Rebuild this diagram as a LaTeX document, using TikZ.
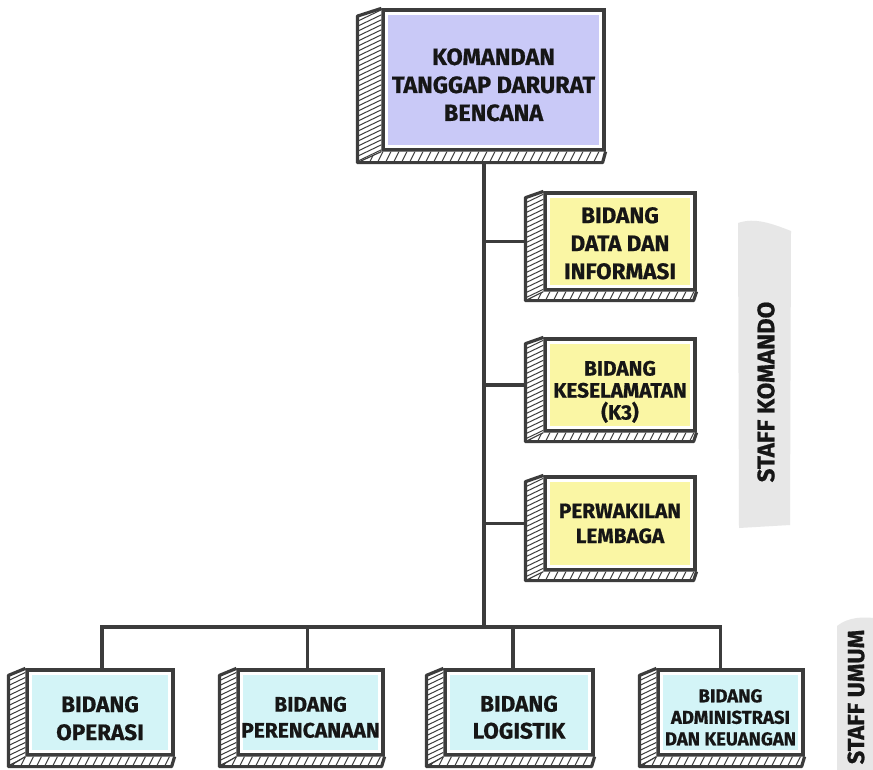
\documentclass[tikz,border=0pt]{standalone}
\usepackage{fontspec}
\setmainfont{Fira Sans}[BoldFeatures={FakeBold=0.7}]
\usetikzlibrary{calc,backgrounds}

\definecolor{ink}{HTML}{3C3C3C}
\definecolor{lav}{HTML}{C9C9F7}
\definecolor{lem}{HTML}{FAF6A4}
\definecolor{aqua}{HTML}{D3F4F7}
\definecolor{band}{HTML}{E7E7E7}
\definecolor{txt}{HTML}{161616}

% taller first line: pushes a text block down by half of #1
\newcommand\droptext[1]{\rule{0pt}{\dimexpr\fontcharht\font`B+#1\relax}}

\tikzset{
  x=1pt, y=-1pt,
  face/.style={draw=ink, line width=3.2pt, fill=white, inner sep=0pt,
    align=center, text=txt,
    path picture={\fill[#1] ([shift={(5pt,-5pt)}]path picture bounding box.north west)
      rectangle ([shift={(-5pt,5pt)}]path picture bounding box.south east);}},
  hatch/.style={draw=ink, line width=1pt},
  rim/.style={draw=ink, line width=3.2pt, line join=round},
  conn/.style={draw=ink, line width=3.6pt},
  fsz/.style n args={2}{font=\fontsize{#1}{#2}\selectfont\bfseries},
  sidelabel/.style={rotate=90, text=txt, inner sep=0pt},
}

% hatched left and bottom faces of a raised box
\newcommand\boxsides[3]{%
  \coordinate (#1-A) at (#1.north west);
  \coordinate (#1-D) at (#1.south west);
  \coordinate (#1-E) at (#1.south east);
  \coordinate (#1-B) at ($(#1-A)+(-#2,#3*0.7)$);
  \coordinate (#1-C) at ($(#1-D)+(-#2,#3)$);
  \coordinate (#1-F) at ($(#1-E)+(-3,#3)$);
  \fill[white] (#1-A) -- (#1-B) -- (#1-C) -- (#1-F) -- (#1-E) -- (#1-D) -- cycle;
  \begin{scope}
    \clip (#1-A) -- (#1-B) -- (#1-C) -- (#1-D) -- cycle;
    \foreach \k in {-6,...,48} \draw[hatch] ($(#1-B)+(-10,\k*5)$) -- ++(50,-24);
  \end{scope}
  \begin{scope}
    \clip (#1-D) -- (#1-C) -- (#1-F) -- (#1-E) -- cycle;
    \foreach \k in {0,...,34} \draw[hatch] ($(#1-C)+(\k*8-6,4)$) -- ++(9,-18);
  \end{scope}
  \draw[rim] (#1-A) -- (#1-B) -- (#1-C) -- (#1-F) -- (#1-E);
  \draw[ink, line width=1.2pt] (#1-C) -- (#1-D);
}

\begin{document}
\begin{tikzpicture}
\useasboundingbox (0,0) rectangle (873,769);

% side bands
\fill[band] (738,223) .. controls (755,217) and (773,224) .. (791,231)
  -- (790,525) -- (739,528) -- cycle;
\fill[band] (837,626) .. controls (848,617) and (864,616) .. (880,619)
  -- (880,780) -- (837,780) -- cycle;
\node[sidelabel, fsz={24}{28}] (sk) at (766,392) {STAFF KOMANDO};
\node[sidelabel, fsz={23.5}{28}] (su) at (856,697) {STAFF UMUM};

% commander
\node[face=lav, minimum width=221pt, minimum height=140pt, fsz={23.5}{28}]
  (top) at (493.5,80) {\droptext{10pt}KOMANDAN\\TANGGAP DARURAT\\BENCANA};
\boxsides{top}{24}{11}

% command staff
\node[face=lem, minimum width=150pt, minimum height=97pt, fsz={22.5}{28}]
  (y1) at (620,241.5) {\droptext{4pt}BIDANG\\DATA DAN\\INFORMASI};
\boxsides{y1}{18}{9}
\node[face=lem, minimum width=150pt, minimum height=92pt, fsz={20.8}{22}]
  (y2) at (620,385) {\droptext{14pt}BIDANG\\KESELAMATAN\\(K3)};
\boxsides{y2}{18}{9}
\node[face=lem, minimum width=150pt, minimum height=93pt, fsz={20.8}{25}]
  (y3) at (620,523.5) {PERWAKILAN\\LEMBAGA};
\boxsides{y3}{18}{9}

% general staff
\node[face=aqua, minimum width=146pt, minimum height=85pt, fsz={22.5}{28}]
  (b1) at (100,712.5) {\droptext{12pt}BIDANG\\OPERASI};
\boxsides{b1}{17}{10}
\node[face=aqua, minimum width=145pt, minimum height=85pt, fsz={21}{26}]
  (b2) at (310.5,712.5) {\droptext{10pt}BIDANG\\PERENCANAAN};
\boxsides{b2}{17}{10}
\node[face=aqua, minimum width=148pt, minimum height=85pt, fsz={22.5}{27}]
  (b3) at (519,712.5) {\droptext{10pt}BIDANG\\LOGISTIK};
\boxsides{b3}{17}{10}
\node[face=aqua, minimum width=145pt, minimum height=85pt, fsz={18.5}{21.5}]
  (b4) at (730.5,712.5) {\droptext{10pt}BIDANG\\ADMINISTRASI\\DAN KEUANGAN};
\boxsides{b4}{17}{10}

\coordinate (bus) at (484,627);

\begin{pgfonlayer}{background}
  \fill[white] (0,0) rectangle (873,769);
  \draw[conn] (top.center -| bus) -- (bus);
  \foreach \n in {y1,y2,y3} \draw[conn] (\n.west) -- (\n.west -| bus);
  \draw[conn] ([xshift=2pt]b1.north) -- ([xshift=2pt]b1.north |- bus)
    -- ([xshift=-10pt]b4.north |- bus) -- ([xshift=-10pt]b4.north);
  \draw[conn] ([xshift=-3pt]b2.north) -- ([xshift=-3pt]b2.north |- bus);
  \draw[conn] ([xshift=-6pt]b3.north) -- ([xshift=-6pt]b3.north |- bus);
\end{pgfonlayer}
\end{tikzpicture}
\end{document}
